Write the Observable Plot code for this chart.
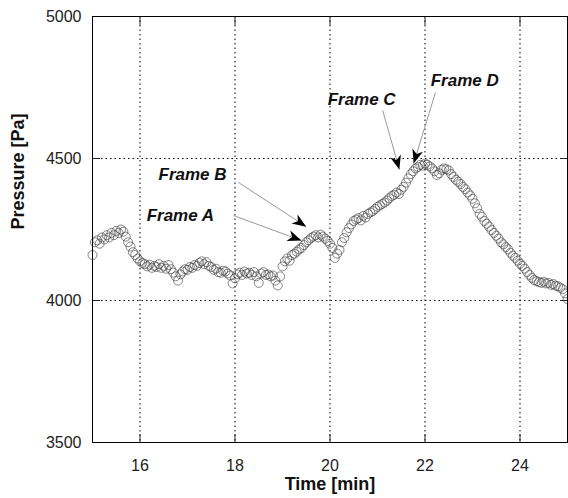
<!DOCTYPE html>
<html><head><meta charset="utf-8">
<script src="https://cdn.jsdelivr.net/npm/d3@7"></script>
<script src="https://cdn.jsdelivr.net/npm/@observablehq/plot@0.6"></script>
<style>body{margin:0;background:#fff} svg{display:block}</style>
</head><body><div id="chart"></div>
<script>
const time = [
15.00,15.05,15.10,15.15,15.20,15.25,15.30,15.35,15.40,15.45,15.50,15.55,15.60,15.65,15.70,15.75,15.80,15.85,15.90,15.95,
16.00,16.05,16.10,16.15,16.20,16.25,16.30,16.35,16.40,16.45,16.50,16.55,16.60,16.65,16.70,16.75,16.80,16.85,16.90,16.95,
17.00,17.05,17.10,17.15,17.20,17.25,17.30,17.35,17.40,17.45,17.50,17.55,17.60,17.65,17.70,17.75,17.80,17.85,17.90,17.95,
18.00,18.05,18.10,18.15,18.20,18.25,18.30,18.35,18.40,18.45,18.50,18.55,18.60,18.65,18.70,18.75,18.80,18.85,18.90,18.95,
19.00,19.05,19.10,19.15,19.20,19.25,19.30,19.35,19.40,19.45,19.50,19.55,19.60,19.65,19.70,19.75,19.80,19.85,19.90,19.95,
20.00,20.05,20.10,20.15,20.20,20.25,20.30,20.35,20.40,20.45,20.50,20.55,20.60,20.65,20.70,20.75,20.80,20.85,20.90,20.95,
21.00,21.05,21.10,21.15,21.20,21.25,21.30,21.35,21.40,21.45,21.50,21.55,21.60,21.65,21.70,21.75,21.80,21.85,21.90,21.95,
22.00,22.05,22.10,22.15,22.20,22.25,22.30,22.35,22.40,22.45,22.50,22.55,22.60,22.65,22.70,22.75,22.80,22.85,22.90,22.95,
23.00,23.05,23.10,23.15,23.20,23.25,23.30,23.35,23.40,23.45,23.50,23.55,23.60,23.65,23.70,23.75,23.80,23.85,23.90,23.95,
24.00,24.05,24.10,24.15,24.20,24.25,24.30,24.35,24.40,24.45,24.50,24.55,24.60,24.65,24.70,24.75,24.80,24.85,24.90,24.95,
25.00];
const pressure = [
4160,4205,4212,4200,4222,4215,4230,4222,4238,4230,4245,4238,4250,4242,4225,4205,4190,4170,4160,4148,
4138,4132,4128,4120,4126,4115,4122,4118,4128,4115,4122,4112,4125,4110,4098,4085,4070,4092,4102,4110,
4108,4118,4115,4125,4122,4132,4138,4128,4135,4122,4118,4108,4112,4100,4098,4105,4102,4095,4088,4060,
4078,4092,4098,4090,4102,4095,4098,4090,4100,4085,4062,4095,4100,4090,4092,4085,4088,4070,4053,4085,
4120,4138,4148,4140,4160,4165,4172,4180,4185,4195,4205,4212,4220,4225,4230,4222,4232,4225,4218,4210,
4200,4185,4150,4165,4178,4205,4220,4240,4255,4268,4280,4285,4290,4282,4298,4292,4305,4310,4315,4322,
4330,4335,4340,4345,4352,4360,4368,4372,4380,4375,4390,4400,4415,4430,4445,4455,4465,4470,4478,4475,
4482,4478,4472,4465,4455,4442,4448,4460,4465,4462,4458,4445,4435,4425,4418,4410,4400,4392,4380,4370,
4358,4342,4325,4305,4295,4280,4270,4260,4248,4238,4228,4218,4205,4198,4188,4180,4168,4158,4150,4140,
4130,4122,4112,4100,4090,4080,4072,4068,4065,4062,4066,4060,4062,4055,4058,4052,4050,4045,4040,4025,
4005];

const xTicks = [16, 18, 20, 22, 24];
const yTicks = [3500, 4000, 4500, 5000];
const yGrid = [4000, 4500];

const frameLabels = ["Frame A", "Frame B", "Frame C", "Frame D"];
const labelT = [16.14, 16.39, 19.95, 22.12];
const labelP = [4299, 4444, 4708, 4775];
const arrowT1 = [17.97, 18.07, 21.11, 22.22];
const arrowP1 = [4299, 4416, 4669, 4732];
const arrowT2 = [19.40, 19.50, 21.46, 21.76];
const arrowP2 = [4211, 4260, 4461, 4482];

const points = time.map((t, i) => ({t, p: pressure[i]}));
const labels = frameLabels.map((s, i) => ({s, t: labelT[i], p: labelP[i]}));
const arrows = frameLabels.map((s, i) => ({t1: arrowT1[i], p1: arrowP1[i], t2: arrowT2[i], p2: arrowP2[i]}));

function headMarker(color, context) {
  const m = d3.create("svg:marker")
    .attr("viewBox", "-15 -6 16 12")
    .attr("refX", 0).attr("refY", 0)
    .attr("markerWidth", 16).attr("markerHeight", 12)
    .attr("markerUnits", "userSpaceOnUse")
    .attr("orient", "auto")
    .attr("overflow", "visible");
  m.append("path").attr("d", "M0,0L-14,-5.5L-10,0L-14,5.5Z").attr("fill", "black").attr("stroke", "none");
  return m.node();
}

const chart = Plot.plot({
  width: 568, height: 498,
  marginLeft: 92, marginRight: 1, marginTop: 16, marginBottom: 56,
  style: {fontFamily: "'Liberation Sans', Arial, sans-serif", fontSize: "16px", color: "#222", background: "white"},
  x: {domain: [15, 25]},
  y: {domain: [3500, 5000]},
  marks: [
    Plot.gridX(xTicks, {stroke: "black", strokeOpacity: 1, strokeDasharray: "1.5,3"}),
    Plot.gridY(yGrid, {stroke: "black", strokeOpacity: 1, strokeDasharray: "1.5,3"}),
    Plot.dot(points, {x: "t", y: "p", r: 4.5, stroke: "#333", strokeOpacity: 0.65, strokeWidth: 0.9, fill: "none"}),
    Plot.link(arrows, {x1: "t1", y1: "p1", x2: "t2", y2: "p2", stroke: "#999", strokeWidth: 1, markerEnd: headMarker}),
    Plot.text(labels, {x: "t", y: "p", text: "s", textAnchor: "start", fontWeight: "bold", fontStyle: "italic", fontSize: 17, fill: "#111"}),
    Plot.axisX(xTicks, {tickSize: 0, tickPadding: 17, tickFormat: "d", label: null}),
    Plot.axisX(xTicks, {tickSize: 8, dy: -8, tickFormat: () => "", label: null}),
    Plot.axisX(xTicks, {anchor: "top", tickSize: 8, dy: 8, tickFormat: () => "", label: null}),
    Plot.axisY(yTicks, {tickSize: 0, tickPadding: 11, tickFormat: "d", label: null}),
    Plot.axisY(yTicks, {tickSize: 8, dx: 8, tickFormat: () => "", label: null}),
    Plot.axisY(yTicks, {anchor: "right", tickSize: 8, dx: -8, tickFormat: () => "", label: null}),
    Plot.frame({stroke: "black"}),
    Plot.text(["Time [min]"], {frameAnchor: "bottom", dy: 47, fontWeight: "bold", fontSize: 18, fill: "#111"}),
    Plot.text(["Pressure [Pa]"], {frameAnchor: "left", dx: -74, rotate: -90, fontWeight: "bold", fontSize: 18, fill: "#111"})
  ]
});
document.getElementById("chart").appendChild(chart);
</script>
</body></html>
